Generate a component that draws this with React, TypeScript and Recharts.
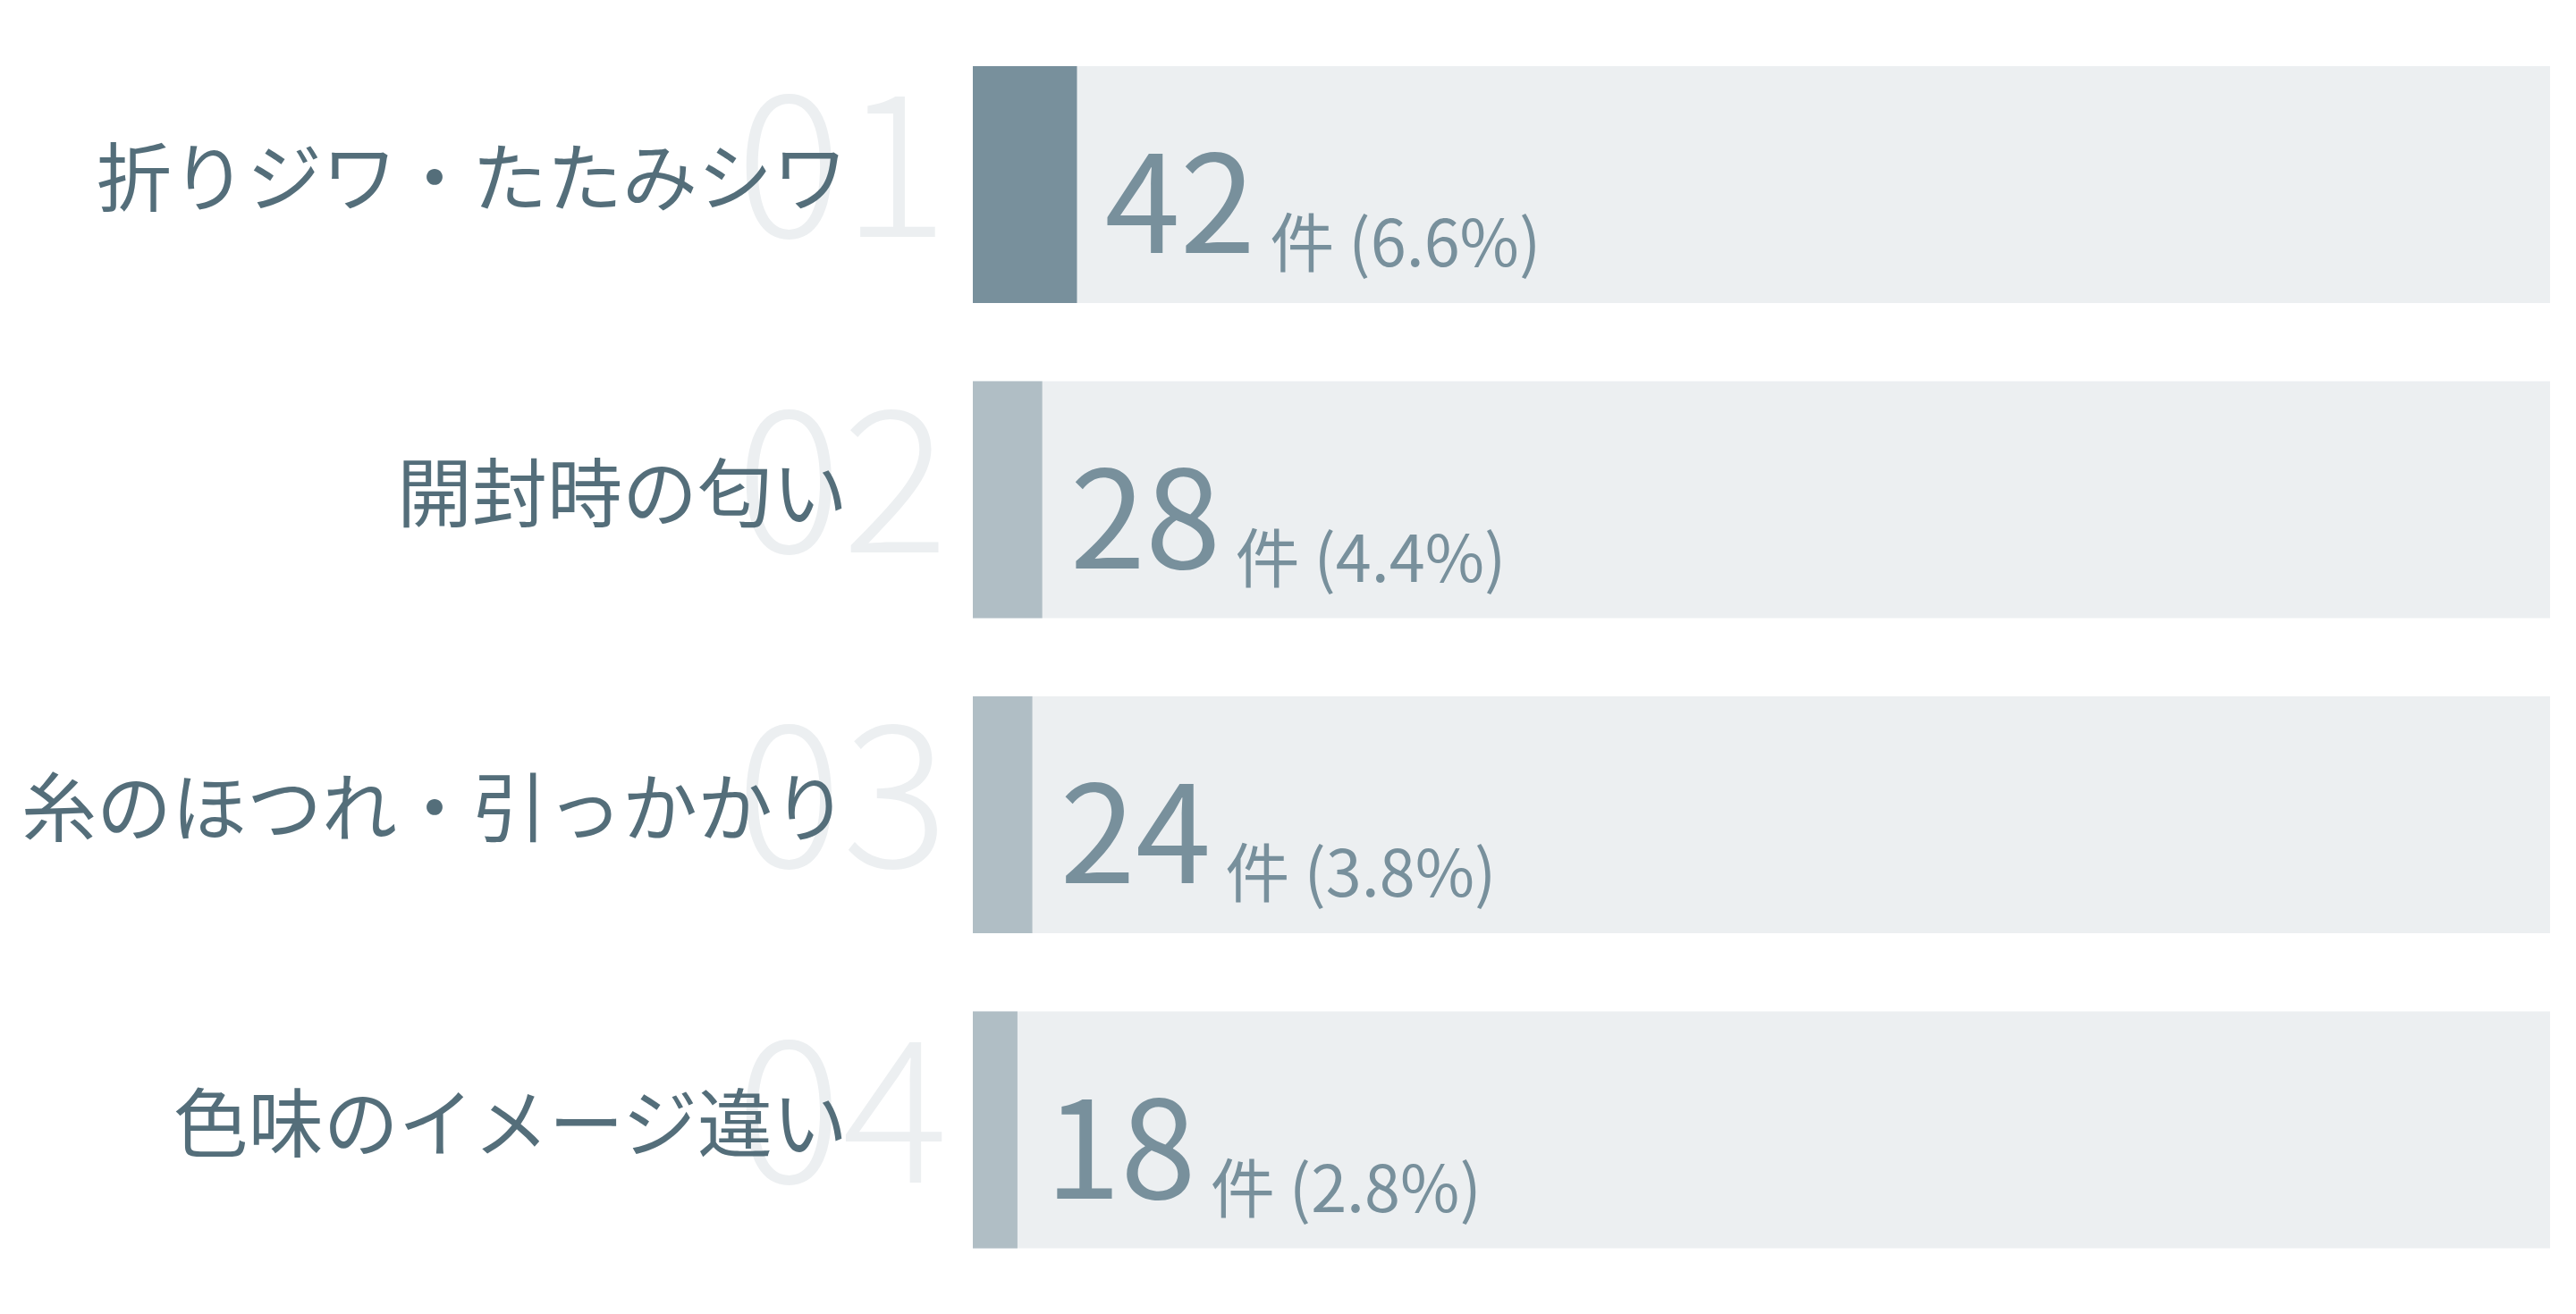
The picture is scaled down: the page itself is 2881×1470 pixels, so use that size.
import { Bar, BarChart, Cell, LabelList, XAxis, YAxis } from "recharts"

const categories = ["折りジワ・たたみシワ", "開封時の匂い", "糸のほつれ・引っかかり", "色味のイメージ違い"]
const counts = [42, 28, 24, 18]
const percents = ["6.6%", "4.4%", "3.8%", "2.8%"]
const ranks = ["01", "02", "03", "04"]
const totalCount = 636

const data = categories.map((name, i) => ({ name, count: counts[i], pct: percents[i], rank: ranks[i] }))

const FONT = "'Noto Sans CJK JP', 'Noto Sans', sans-serif"

function CategoryTick(props: any) {
  const { x, y, payload, index } = props
  return (
    <g>
      <text x={x - 265} y={y + 59} fill="#eceff1" fontSize={222} fontWeight={300} fontFamily={FONT}>
        {ranks[index]}
      </text>
      <text x={x - 140} y={y + 24} fill="#546e7a" fontSize={84} textAnchor="end" fontFamily={FONT}>
        {payload.value}
      </text>
    </g>
  )
}

function ValueLabel(props: any) {
  const { x, y, width, index } = props
  return (
    <text x={x + width + 31} y={y + 209} fill="#78909c" fontFamily={FONT}>
      <tspan fontSize={152}>{counts[index]}</tspan>
      <tspan fontSize={72} dx={16} dy={15}>
        件 ({percents[index]})
      </tspan>
    </text>
  )
}

export default function App() {
  return (
    <BarChart
      width={2865}
      height={1454}
      data={data}
      layout="vertical"
      margin={{ top: 22, right: 21, bottom: 22, left: 0 }}
      barCategoryGap={44}
    >
      <XAxis type="number" domain={[0, totalCount]} hide />
      <YAxis
        type="category"
        dataKey="name"
        width={1080}
        axisLine={false}
        tickLine={false}
        tickSize={0}
        tickMargin={0}
        tick={<CategoryTick />}
      />
      <Bar dataKey="count" background={{ fill: "#eceff1" }} isAnimationActive={false}>
        {data.map((d, i) => (
          <Cell key={d.name} fill={i === 0 ? "#78909c" : "#b0bec5"} />
        ))}
        <LabelList dataKey="count" content={<ValueLabel />} />
      </Bar>
    </BarChart>
  )
}
